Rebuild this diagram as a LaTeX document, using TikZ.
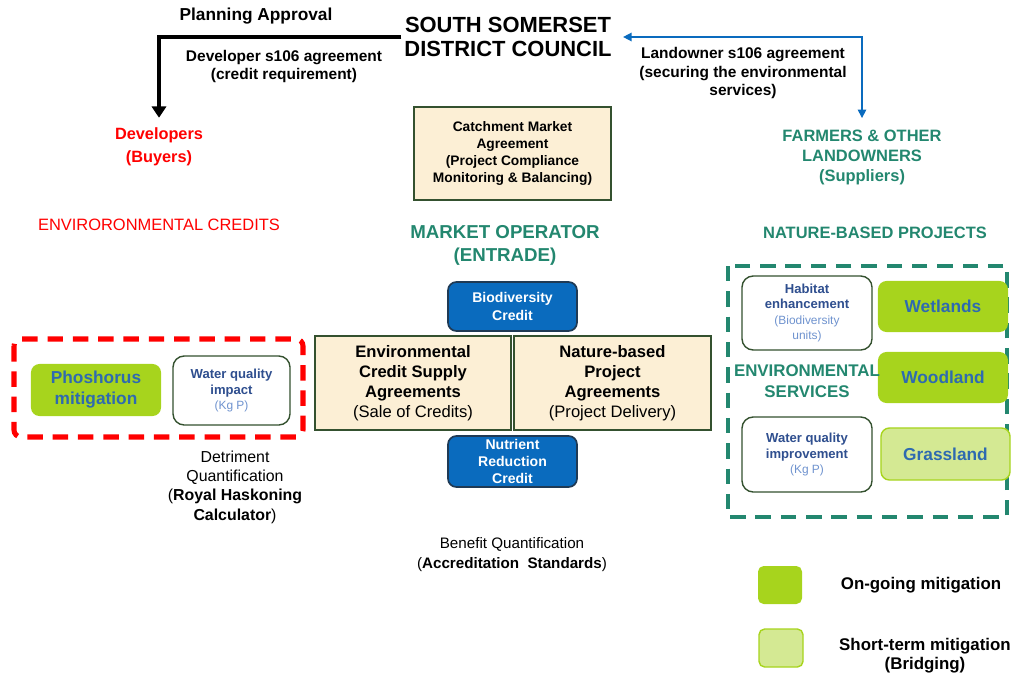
\documentclass[tikz,border=0pt]{standalone}
\usepackage{fontspec}
\setmainfont{Liberation Sans}
\usetikzlibrary{arrows.meta,positioning,calc}

\definecolor{ssteal}{HTML}{23876F}
\definecolor{ssred}{HTML}{FF0000}
\definecolor{beige}{HTML}{FCEFD5}
\definecolor{boxedge}{HTML}{34512F}
\definecolor{creditblue}{HTML}{0A6BBE}
\definecolor{creditedge}{HTML}{1F3A55}
\definecolor{ongreen}{HTML}{A7D41D}
\definecolor{shortgreen}{HTML}{D4E993}
\definecolor{textblue}{HTML}{2E6AB0}
\definecolor{lightblue}{HTML}{6F93CF}
\definecolor{servblue}{HTML}{2F4F8F}

\newcommand{\fs}[2]{\fontsize{#1}{#2}\selectfont}
\newcommand{\unitline}[1]{{\mdseries\color{lightblue}\fs{8.5}{11}#1}}

\tikzset{
  plaintext/.style={align=center, inner sep=2pt},
  agreebox/.style={draw=boxedge, line width=1.3pt, fill=beige, align=center,
    minimum width=4.9cm, minimum height=2.35cm, inner sep=2pt},
  creditbox/.style={draw=creditedge, line width=1.2pt, fill=creditblue, rounded corners=6pt,
    text=white, align=center, minimum width=3.225cm, inner sep=1pt,
    font=\bfseries\fs{10}{12.5}},
  greenbox/.style={fill=ongreen, rounded corners=6pt, text=textblue, align=center,
    minimum width=3.25cm, minimum height=1.3cm, font=\bfseries\fs{12.3}{15}},
  shortbox/.style={greenbox, fill=shortgreen, draw=ongreen, line width=1pt},
  servbox/.style={draw=boxedge, line width=1pt, fill=white, rounded corners=8pt, align=center,
    minimum width=3.25cm, text=servblue, inner sep=1pt, font=\bfseries\fs{9.3}{11}},
  keybox/.style={rounded corners=4pt, minimum width=1.1cm, minimum height=0.95cm}
}

\begin{document}
\begin{tikzpicture}[x=0.025cm, y=-0.025cm]
        % Page frame
        \useasboundingbox (0,0) rectangle (1018,677);

        % Council and the two parties
        \node[plaintext, font=\bfseries\fs{15.6}{17}] (council) at (508,37) {SOUTH SOMERSET\\DISTRICT COUNCIL};
        \node[plaintext, font=\bfseries\fs{12.3}{14}] (approval) at (256,16) {Planning Approval};
        \node[plaintext, font=\bfseries\fs{11}{12.8}] (devagree) at (284,66) {Developer s106 agreement\\(credit requirement)};
        \node[plaintext, font=\bfseries\fs{11}{13.5}] (landagree) at (743,73) {Landowner s106 agreement\\(securing the environmental\\services)};
        \node[plaintext, text=ssred, font=\bfseries\fs{11.6}{16.4}] (devs) at (159,147) {Developers\\(Buyers)};
        \node[plaintext, text=ssteal, font=\bfseries\fs{11.7}{14.2}] (farmers) at (862,157) {FARMERS \& OTHER\\LANDOWNERS\\(Suppliers)};

        % Arrows out of the council
        \draw[line width=2.2pt, -{Triangle[width=10pt,length=8pt]}, shorten >=5pt] (council.west) -| (devs.north);
        \draw[creditblue, line width=1.1pt, {Triangle[width=6pt,length=6pt]}-{Triangle[width=6pt,length=6pt]},
              shorten <=6pt, shorten >=6pt] (council.east) -| (farmers.north);

        % Catchment agreement
        \node[agreebox, minimum width=4.925cm, minimum height=2.325cm, font=\bfseries\fs{9.8}{12}] (catch) at (512.5,153.5)
            {Catchment Market\\Agreement\\(Project Compliance\\Monitoring \& Balancing)};

        % Headings
        \node[plaintext, text=ssred, font=\fs{11.7}{14}] (credits) at (159,225) {ENVIRORONMENTAL CREDITS};
        \node[plaintext, text=ssteal, font=\bfseries\fs{13.3}{16.4}] (operator) at (505,245) {MARKET OPERATOR\\(ENTRADE)};
        \node[plaintext, text=ssteal, font=\bfseries\fs{11.7}{14}] (nbp) at (875,233) {NATURE-BASED PROJECTS};

        % Market operator agreements and credits
        \node[agreebox, font=\fs{11.8}{14.2}] (supply) at (413,383)
            {\textbf{Environmental}\\\textbf{Credit Supply}\\\textbf{Agreements}\\(Sale of Credits)};
        \node[agreebox, minimum width=4.925cm, font=\fs{11.8}{14.2}] (projects) at (612.5,383)
            {\textbf{Nature-based}\\\textbf{Project}\\\textbf{Agreements}\\(Project Delivery)};
        \node[creditbox, minimum height=1.225cm] (biocredit) at (512.5,306.5) {Biodiversity\\Credit};
        \node[creditbox, minimum height=1.275cm, font=\bfseries\fs{10}{12}] (nutcredit) at (512.5,461.5) {Nutrient\\Reduction\\Credit};

        % Developer side
        \draw[ssred, line width=3.6pt, dash pattern=on 11pt off 7pt, rounded corners=5pt] (14,339) rectangle (303,437);
        \node[greenbox, minimum height=1.3cm] (phos) at (96,390) {Phoshorus\\mitigation};
        \node[servbox, minimum width=2.925cm, minimum height=1.725cm] (impact) at (231.5,390.5)
            {Water quality\\impact\\\unitline{(Kg P)}};
        \node[plaintext, font=\fs{11.3}{13.7}] (detriment) at (235,487)
            {Detriment\\Quantification\\(\textbf{Royal Haskoning}\\\textbf{Calculator})};

        % Supplier side
        \draw[ssteal, line width=3pt, dash pattern=on 11pt off 7pt] (728,266) rectangle (1007,517);
        \node[servbox, minimum height=1.85cm] (habitat) at (807,313)
            {Habitat\\enhancement\\\unitline{(Biodiversity}\\\unitline{units)}};
        \node[servbox, minimum height=1.875cm] (improve) at (807,454.5)
            {Water quality\\improvement\\\unitline{(Kg P)}};
        \node[greenbox, minimum height=1.275cm] (wetlands) at (943,306.5) {Wetlands};
        \node[greenbox, minimum height=1.275cm] (woodland) at (943,377.5) {Woodland};
        \node[shortbox, minimum width=3.225cm] (grassland) at (945.5,454) {Grassland};
        \node[plaintext, text=ssteal, font=\bfseries\fs{12}{15}] (services) at (807,381) {ENVIRONMENTAL\\SERVICES};

        % Benefit quantification
        \node[plaintext, font=\fs{10.8}{14.2}] (benefit) at (512,555) {Benefit Quantification\\(\textbf{Accreditation\ \ Standards})};

        % Key
        \node[keybox, fill=ongreen] (keyon) at (780,585) {};
        \node[keybox, fill=shortgreen, draw=ongreen, line width=1pt] (keyshort) at (781,648) {};
        \node[plaintext, font=\bfseries\fs{12}{13.5}] (keyontext) at (921,585) {On-going mitigation};
        \node[plaintext, font=\bfseries\fs{12}{13.5}] (keyshorttext) at (925,656) {Short-term mitigation\\(Bridging)};
\end{tikzpicture}
\end{document}
